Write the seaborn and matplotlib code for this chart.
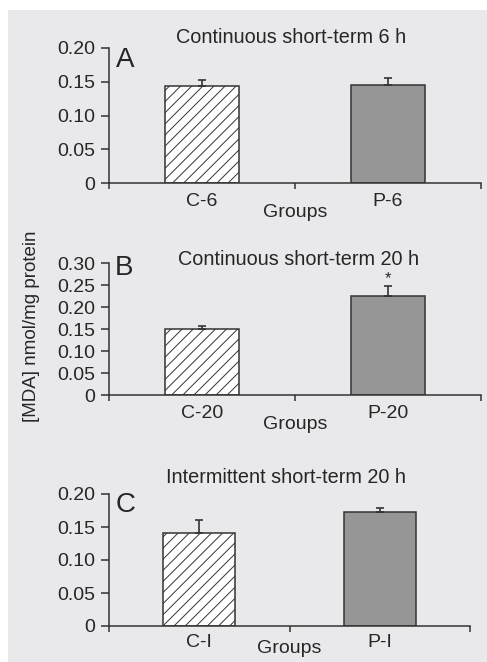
import matplotlib
matplotlib.use("Agg")
import matplotlib.pyplot as plt
import seaborn as sns
import pandas as pd
from matplotlib.patches import Rectangle

sns.set_style("ticks")
plt.rcParams['font.family'] = ['Liberation Sans', 'DejaVu Sans']
plt.rcParams['hatch.linewidth'] = 0.7

# Data
groups_a = ["C-6", "P-6"]
values_a = [0.143, 0.145]
errors_a = [0.009, 0.010]

groups_b = ["C-20", "P-20"]
values_b = [0.150, 0.225]
errors_b = [0.008, 0.023]

groups_c = ["C-I", "P-I"]
values_c = [0.141, 0.172]
errors_c = [0.019, 0.007]

titles = ["Continuous short-term 6 h", "Continuous short-term 20 h", "Intermittent short-term 20 h"]
letters = ["A", "B", "C"]
yticks_a = [0, 0.05, 0.10, 0.15, 0.20]
yticks_b = [0, 0.05, 0.10, 0.15, 0.20, 0.25, 0.30]
yticks_c = [0, 0.05, 0.10, 0.15, 0.20]
significance = [[], ["", "*"], []]

W, H = 487, 662
fig = plt.figure(figsize=(W / 100, H / 100), dpi=100)
fig.patch.set_facecolor("white")
bg = "#e9e9eb"
fig.patches.append(Rectangle((8 / W, 0), 1 - 8 / W, 1 - 10 / H, transform=fig.transFigure,
                             facecolor=bg, edgecolor="none", zorder=-10))

line_col = "#333333"
gray = "#969696"

# axes geometry in pixels: left, right, y0 (zero), ytop
geoms = [(109, 481, 183, 48), (109, 481, 395.3, 263.3), (109, 470, 626, 494)]
# title (center x, baseline y) and panel letter (left x, baseline y), pixels
title_pos = [(291.5, 43), (299, 265), (286, 483)]
letter_pos = [(116, 67), (115, 275), (116, 512)]
xlabel_pads = [-4, -4, -8]
xtick_pads = [7, 7, 6]
datasets = [(groups_a, values_a, errors_a, yticks_a),
            (groups_b, values_b, errors_b, yticks_b),
            (groups_c, values_c, errors_c, yticks_c)]

def fmt(v):
    return "0" if v == 0 else f"{v:.2f}"

FS = 14
for i, ((g, v, e, yt), (l, r, y0, yt_px)) in enumerate(zip(datasets, geoms)):
    ax = fig.add_axes([l / W, 1 - y0 / H, (r - l) / W, (y0 - yt_px) / H])
    ax.set_facecolor("none")
    df = pd.DataFrame({"group": g, "value": v})
    sns.barplot(data=df, x="group", y="value", ax=ax, width=0.4,
                palette=["white", gray], hue="group", legend=False,
                edgecolor=line_col, linewidth=1.1, errorbar=None)
    ax.patches[0].set_hatch("///")
    ax.errorbar(x=[0, 1], y=v, yerr=[[0, 0], e], fmt="none", ecolor=line_col,
                elinewidth=1.2, capsize=2.6, capthick=1.2, zorder=5)
    for k, s in enumerate(significance[i]):
        if s:
            ax.text(k, v[k] + e[k] + 0.001, s, ha="center", va="bottom", fontsize=12)
    ax.set_xlim(-0.5, 1.5)
    ax.set_ylim(0, yt[-1])
    ax.set_yticks(yt)
    ax.set_yticklabels([fmt(t) for t in yt], fontsize=FS)
    ax.set_xticks([-0.5, 0.5, 1.5])
    ax.set_xticklabels([])
    ax.set_xticks([0, 1], minor=True)
    ax.set_xticklabels(g, minor=True, fontsize=FS)
    ax.tick_params(axis="x", which="minor", length=0, pad=xtick_pads[i])
    ax.tick_params(axis="x", which="major", length=4, width=1.1, color=line_col)
    ax.tick_params(axis="y", length=6, width=1.1, color=line_col, pad=4)
    ax.spines["top"].set_visible(False)
    ax.spines["right"].set_visible(False)
    for sp in ["left", "bottom"]:
        ax.spines[sp].set_color(line_col)
        ax.spines[sp].set_linewidth(1.1)
    ax.set_ylabel("")
    ax.set_xlabel("Groups", fontsize=FS, labelpad=xlabel_pads[i])
    tx, ty = title_pos[i]
    fig.text(tx / W, 1 - ty / H, titles[i], ha="center", va="baseline", fontsize=14.3)
    lx, ly = letter_pos[i]
    fig.text(lx / W, 1 - ly / H, letters[i], ha="left", va="baseline", fontsize=20)

fig.text(32 / W, 1 - 326 / H, "[MDA] nmol/mg protein", rotation=90, ha="center", va="center", fontsize=13.5)

fig.savefig("out.png", dpi=100)
